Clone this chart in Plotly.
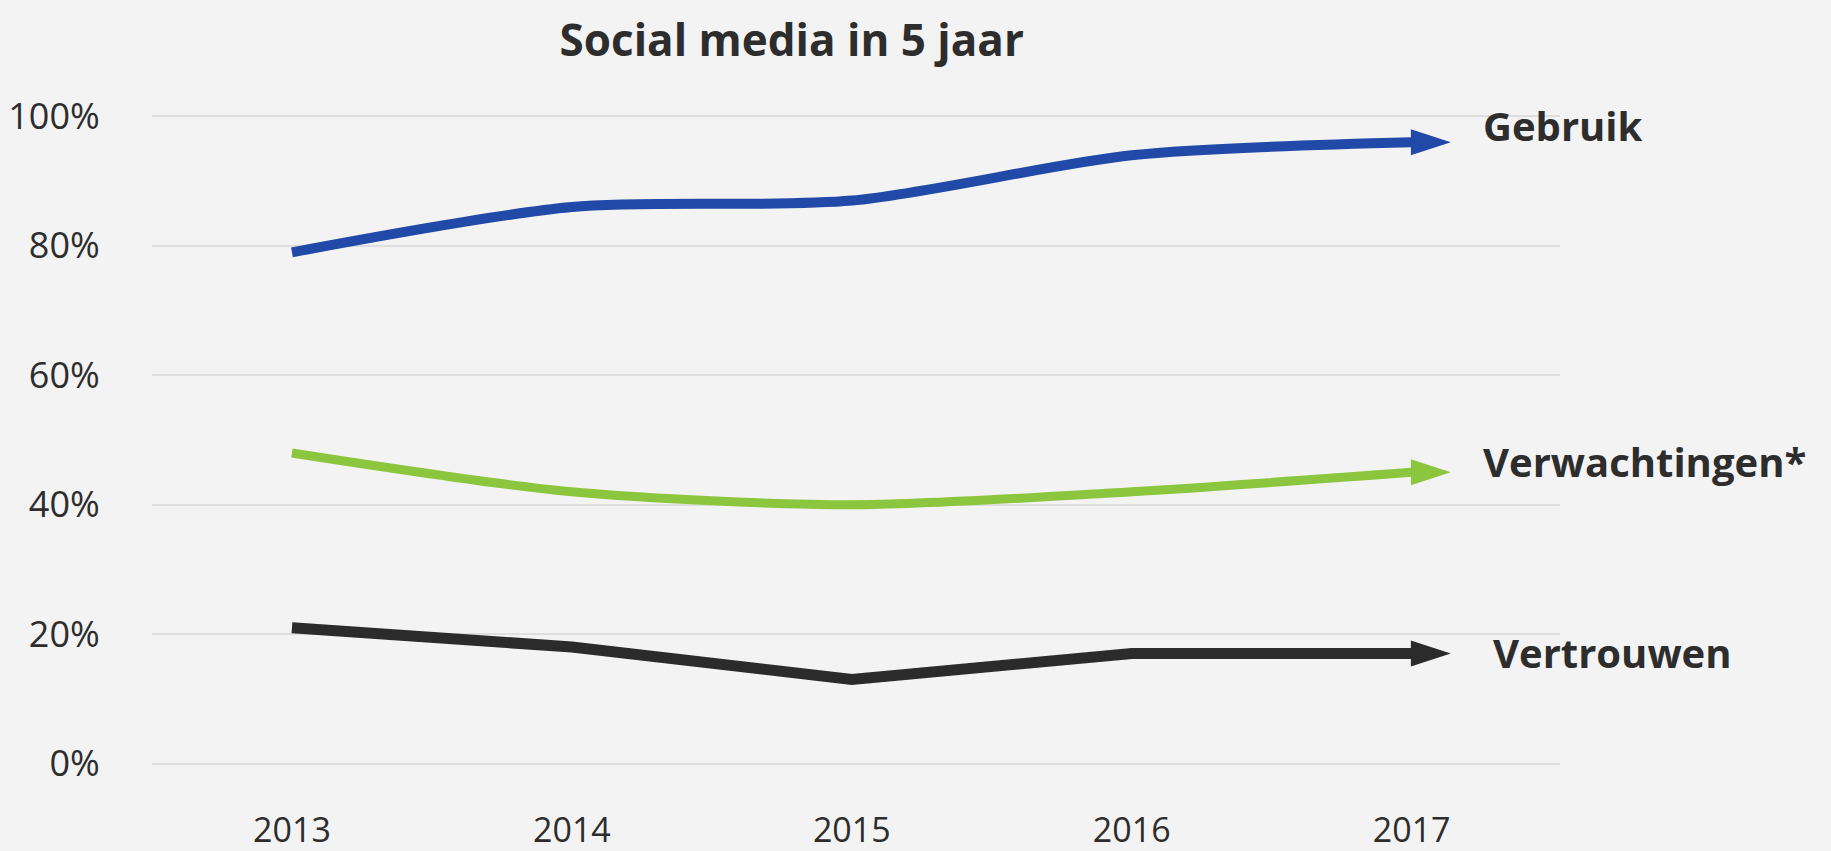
import plotly.graph_objects as go

years = [2013, 2014, 2015, 2016, 2017]
tick_labels = ["2013", "2014", "2015", "2016", "2017"]
y_ticks = [0, 20, 40, 60, 80, 100]
y_tick_labels = ["0%", "20%", "40%", "60%", "80%", "100%"]

gebruik = [79, 86, 87, 94, 96]
verwachtingen = [48, 42, 40, 42, 45]
vertrouwen = [21, 18, 13, 17, 17]

# name, values, colour, line shape, line width, label nudge x/y (px)
series = [
    ("Gebruik", gebruik, "#2149a8", "spline", 10, 30, 17),
    ("Verwachtingen*", verwachtingen, "#8cc63f", "spline", 9, 30, 11),
    ("Vertrouwen", vertrouwen, "#2b2b2b", "linear", 11, 40, 1),
]

ARROW_REACH = 0.14   # how far the arrow head sticks out past the last year
TEXT = "#2d2d2d"
FONT = "Open Sans"

fig = go.Figure()

for name, vals, color, shape, width, dx, dy in series:
    fig.add_trace(go.Scatter(
        x=years, y=vals, mode="lines", name=name,
        line=dict(color=color, width=width, shape=shape, smoothing=0.8),
        hoverinfo="skip",
    ))
    # arrow head at the end of each line
    fig.add_trace(go.Scatter(
        x=[years[-1], years[-1] + ARROW_REACH], y=[vals[-1], vals[-1]],
        mode="lines+markers",
        line=dict(color=color, width=width),
        marker=dict(symbol="arrow", size=[0, 42], color=color, opacity=1,
                    angleref="previous", line=dict(width=0)),
        hoverinfo="skip",
    ))
    fig.add_annotation(
        x=years[-1] + ARROW_REACH, y=vals[-1], text=name,
        xanchor="left", yanchor="middle", xshift=dx, yshift=dy,
        showarrow=False,
        font=dict(family=FONT, size=40, color=TEXT, weight="bold"),
    )

fig.update_layout(
    width=1831, height=851,
    paper_bgcolor="#f3f3f3", plot_bgcolor="#f3f3f3",
    margin=dict(l=152, r=271, t=110, b=81),
    showlegend=False,
    title=dict(
        text="<b>Social media in 5 jaar</b>",
        x=0.4324, xanchor="center", xref="container",
        y=0.952, yanchor="middle",
        font=dict(family=FONT, size=44, color=TEXT),
    ),
    xaxis=dict(
        range=[2012.5, 2017.53], automargin=False,
        tickvals=years, ticktext=tick_labels,
        showgrid=False, zeroline=False, showline=False,
        ticks="outside", ticklen=30, tickcolor="rgba(0,0,0,0)",
        tickfont=dict(family=FONT, size=34, color=TEXT),
    ),
    yaxis=dict(
        range=[-1, 101], automargin=False,
        tickvals=y_ticks, ticktext=y_tick_labels,
        showgrid=True, gridcolor="#dedede", gridwidth=2,
        zeroline=False, showline=False,
        ticks="outside", ticklen=44, tickcolor="rgba(0,0,0,0)",
        tickfont=dict(family=FONT, size=36, color=TEXT),
    ),
)

# drop the page's default body margin so the figure fills the window
fig.write_html("out.html", config={"displayModeBar": False},
               post_script="document.body.style.margin='0';")
